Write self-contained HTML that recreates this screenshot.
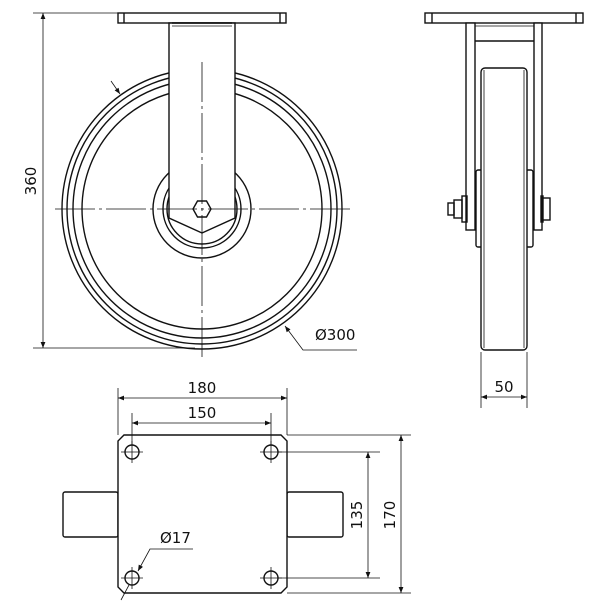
<!DOCTYPE html>
<html><head><meta charset="utf-8"><style>
html,body{margin:0;padding:0;background:#fff}
svg{display:block}
text{font-family:"DejaVu Sans","Liberation Sans",sans-serif;font-size:15px;fill:#111}
</style></head><body>
<svg width="600" height="610" viewBox="0 0 600 610" xmlns="http://www.w3.org/2000/svg">
<defs>
<marker id="a" viewBox="0 0 10 10" refX="10" refY="5" markerWidth="9" markerHeight="6" orient="auto-start-reverse" markerUnits="userSpaceOnUse"><path d="M0,1 L10,5 L0,9 z" fill="#111"/></marker>
</defs>
<g fill="none" stroke="#111" stroke-width="1.4">
<circle cx="202" cy="209" r="140"/>
<circle cx="202" cy="209" r="135"/>
<circle cx="202" cy="209" r="129"/>
<circle cx="202" cy="209" r="120"/>
<circle cx="202" cy="209" r="49" fill="#fff"/>
<circle cx="202" cy="209" r="39"/>
<circle cx="202" cy="209" r="35"/>
<rect x="118" y="13" width="168" height="10" fill="#fff"/>
<line x1="124" y1="13" x2="124" y2="23"/><line x1="280" y1="13" x2="280" y2="23"/>
<path d="M169,23 L169,218 L202,233 L235,218 L235,23 Z" fill="#fff"/>
<line x1="172" y1="23" x2="232" y2="23"/><line x1="172" y1="26" x2="232" y2="26" stroke-width="0.8"/>
<path d="M193,209 L197.5,201 L206.5,201 L211,209 L206.5,217 L197.5,217 Z"/>
<rect x="425" y="13" width="158" height="10" fill="#fff"/>
<line x1="432" y1="13" x2="432" y2="23"/><line x1="576" y1="13" x2="576" y2="23"/>
<rect x="466" y="23" width="9" height="207" fill="#fff"/>
<rect x="534" y="23" width="8" height="207" fill="#fff"/>
<line x1="475" y1="41" x2="534" y2="41"/>
<line x1="475" y1="26" x2="534" y2="26" stroke-width="0.8"/>
<rect x="476" y="170" width="7" height="77" rx="2"/>
<rect x="526" y="170" width="7" height="77" rx="2"/>
<rect x="481" y="68" width="46" height="282" rx="4" fill="#fff"/>
<line x1="484" y1="70" x2="484" y2="348" stroke-width="0.8"/>
<line x1="524" y1="70" x2="524" y2="348" stroke-width="0.8"/>
<rect x="462" y="196" width="5" height="26"/>
<rect x="454" y="200" width="8" height="18"/>
<rect x="448" y="203" width="6" height="12"/>
<rect x="542" y="198" width="8" height="22"/>
<rect x="541" y="196" width="2" height="26"/>
<rect x="63" y="492" width="55" height="45" rx="2"/>
<rect x="287" y="492" width="56" height="45" rx="2"/>
<path d="M124,435 L281,435 L287,441 L287,587 L281,593 L124,593 L118,587 L118,441 Z" fill="#fff"/>
<circle cx="132" cy="452" r="7"/><circle cx="271" cy="452" r="7"/>
<circle cx="132" cy="578" r="7"/><circle cx="271" cy="578" r="7"/>
</g>
<g fill="none" stroke="#111" stroke-width="0.8">
<line x1="55" y1="209" x2="350" y2="209" stroke-dasharray="40,4,3,4"/>
<line x1="202" y1="62" x2="202" y2="357" stroke-dasharray="40,4,3,4"/>
<line x1="121" y1="452" x2="143" y2="452"/><line x1="132" y1="441" x2="132" y2="463"/>
<line x1="260" y1="452" x2="282" y2="452"/><line x1="271" y1="441" x2="271" y2="463"/>
<line x1="121" y1="578" x2="143" y2="578"/><line x1="132" y1="567" x2="132" y2="589"/>
<line x1="260" y1="578" x2="282" y2="578"/><line x1="271" y1="567" x2="271" y2="589"/>
<line x1="33" y1="13" x2="118" y2="13"/>
<line x1="33" y1="348" x2="195" y2="348"/>
<line x1="43" y1="13" x2="43" y2="348" marker-start="url(#a)" marker-end="url(#a)"/>
<line x1="111" y1="81" x2="120" y2="94" marker-end="url(#a)"/>
<polyline points="357,350 303,350 285,326" marker-end="url(#a)"/>
<line x1="481" y1="352" x2="481" y2="408"/>
<line x1="527" y1="352" x2="527" y2="408"/>
<line x1="481" y1="397" x2="527" y2="397" marker-start="url(#a)" marker-end="url(#a)"/>
<line x1="118" y1="388" x2="118" y2="435"/><line x1="287" y1="388" x2="287" y2="435"/>
<line x1="118" y1="398" x2="287" y2="398" marker-start="url(#a)" marker-end="url(#a)"/>
<line x1="132" y1="413" x2="132" y2="445"/><line x1="271" y1="413" x2="271" y2="445"/>
<line x1="132" y1="423" x2="271" y2="423" marker-start="url(#a)" marker-end="url(#a)"/>
<line x1="287" y1="435" x2="411" y2="435"/><line x1="287" y1="593" x2="411" y2="593"/>
<line x1="401" y1="435" x2="401" y2="593" marker-start="url(#a)" marker-end="url(#a)"/>
<line x1="278" y1="452" x2="380" y2="452"/><line x1="278" y1="578" x2="380" y2="578"/>
<line x1="368" y1="452" x2="368" y2="578" marker-start="url(#a)" marker-end="url(#a)"/>
<polyline points="193,549 150,549 138,571" marker-end="url(#a)"/>
<line x1="129" y1="585" x2="121" y2="600"/>
</g>
<text x="40" y="181" text-anchor="middle" transform="rotate(-90 40 181)" dy="-4">360</text>
<text x="315" y="340">Ø300</text>
<text x="504" y="392" text-anchor="middle">50</text>
<text x="202" y="393" text-anchor="middle">180</text>
<text x="202" y="418" text-anchor="middle">150</text>
<text x="160" y="543">Ø17</text>
<text x="362" y="515" text-anchor="middle" transform="rotate(-90 362 515)">135</text>
<text x="395" y="515" text-anchor="middle" transform="rotate(-90 395 515)">170</text>
</svg>
</body></html>
